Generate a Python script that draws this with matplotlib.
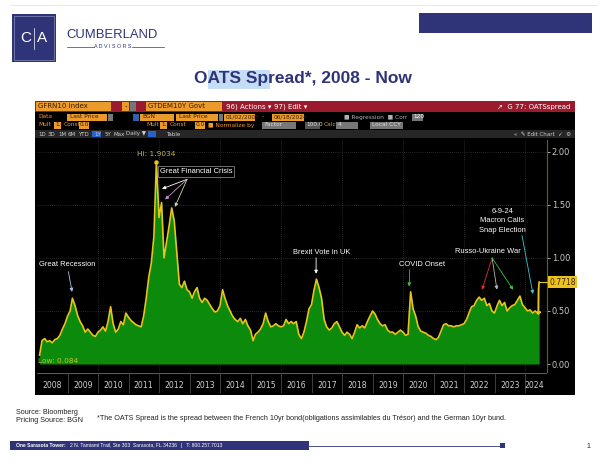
import matplotlib
matplotlib.use("Agg")
import matplotlib.pyplot as plt
from matplotlib.patches import Rectangle
import numpy as np
import pandas as pd

# OATS spread (French 10y minus German 10y), month starts Jan 2008 .. Jun 2024
spread_2008 = [0.084, 0.22, 0.24, 0.21, 0.22, 0.20, 0.23, 0.24, 0.27, 0.33, 0.38, 0.45]
spread_2009 = [0.50, 0.62, 0.55, 0.46, 0.40, 0.36, 0.30, 0.33, 0.30, 0.27, 0.26, 0.30]
spread_2010 = [0.32, 0.35, 0.31, 0.40, 0.54, 0.38, 0.30, 0.33, 0.40, 0.37, 0.48, 0.44]
spread_2011 = [0.41, 0.39, 0.37, 0.36, 0.35, 0.45, 0.62, 0.82, 0.95, 1.20, 1.9034, 1.38]
spread_2012 = [1.52, 1.00, 1.15, 1.30, 1.47, 1.35, 1.05, 0.75, 0.72, 0.78, 0.70, 0.68]
spread_2013 = [0.62, 0.68, 0.72, 0.62, 0.58, 0.62, 0.60, 0.56, 0.52, 0.49, 0.50, 0.55]
spread_2014 = [0.70, 0.62, 0.55, 0.50, 0.45, 0.42, 0.40, 0.43, 0.38, 0.42, 0.36, 0.32]
spread_2015 = [0.22, 0.28, 0.30, 0.33, 0.38, 0.48, 0.40, 0.35, 0.36, 0.38, 0.36, 0.35]
spread_2016 = [0.36, 0.42, 0.38, 0.40, 0.38, 0.40, 0.28, 0.24, 0.30, 0.40, 0.52, 0.56]
spread_2017 = [0.70, 0.80, 0.72, 0.62, 0.42, 0.35, 0.32, 0.34, 0.38, 0.40, 0.35, 0.30]
spread_2018 = [0.27, 0.30, 0.28, 0.24, 0.30, 0.37, 0.34, 0.36, 0.34, 0.40, 0.45, 0.50]
spread_2019 = [0.47, 0.42, 0.38, 0.36, 0.37, 0.32, 0.30, 0.30, 0.28, 0.30, 0.32, 0.30]
spread_2020 = [0.27, 0.28, 0.68, 0.52, 0.45, 0.35, 0.31, 0.30, 0.29, 0.27, 0.26, 0.24]
spread_2021 = [0.23, 0.25, 0.31, 0.37, 0.38, 0.36, 0.36, 0.35, 0.36, 0.36, 0.37, 0.38]
spread_2022 = [0.42, 0.48, 0.54, 0.55, 0.60, 0.63, 0.60, 0.62, 0.55, 0.57, 0.50, 0.48]
spread_2023 = [0.55, 0.60, 0.55, 0.58, 0.50, 0.53, 0.55, 0.56, 0.60, 0.64, 0.56, 0.53]
spread_2024 = [0.50, 0.51, 0.48, 0.50, 0.48, 0.49]

# last days before the snap-election jump
june_dates = ["2024-06-07", "2024-06-10", "2024-06-18"]
june_values = [0.47, 0.70, 0.7718]

year_labels = [str(y) for y in range(2008, 2025)]
y_ticks = [0.0, 0.5, 1.0, 1.5, 2.0]


def decimal_year(d):
	return d.year + (d.dayofyear - 1) / 365.25


monthly = (spread_2008 + spread_2009 + spread_2010 + spread_2011 + spread_2012
	+ spread_2013 + spread_2014 + spread_2015 + spread_2016 + spread_2017
	+ spread_2018 + spread_2019 + spread_2020 + spread_2021 + spread_2022
	+ spread_2023 + spread_2024)
month_dates = pd.date_range("2008-01-02", periods=len(monthly), freq="MS")
dates = list(month_dates) + [pd.Timestamp(d) for d in june_dates]
t = np.array([decimal_year(d) for d in dates])
v = np.array(monthly + june_values)

NAVY = "#2f3479"
RED = "#9c1a2e"
ORANGE = "#eb9a2c"
GREEN = "#0b8a0b"
YELLOW = "#e8c51c"

W, H = 606, 470
fig = plt.figure(figsize=(W / 100, H / 100), dpi=100)
fig.patch.set_facecolor("white")

# page layer in pixel units
bg = fig.add_axes([0, 0, 1, 1])
bg.set_xlim(0, W)
bg.set_ylim(H, 0)
bg.axis("off")


def box(x, y, w, h, color, **kw):
	bg.add_patch(Rectangle((x, y), w, h, facecolor=color, edgecolor=kw.pop("ec", "none"), lw=kw.pop("lw", 0), **kw))


def txt(x, y, s, size=4.2, color="white", ha="left", **kw):
	bg.text(x, y, s, fontsize=size, color=color, ha=ha, va="center", family="DejaVu Sans", **kw)


# ---- slide header ----
bg.plot([10, 596], [5, 5], color="#e4e4e4", lw=0.6)
box(12, 14, 44, 48, NAVY)
bg.add_patch(Rectangle((14, 16), 40, 44, facecolor="none", edgecolor="#9aa0c8", lw=0.4))
bg.text(25.5, 38, "C", fontsize=11, color="white", ha="center", va="center", family="Liberation Sans")
bg.text(42.5, 38, "A", fontsize=11, color="white", ha="center", va="center", family="Liberation Sans")
bg.plot([34, 34], [28, 49], color="white", lw=0.5)
bg.text(66, 35, "CUMBERLAND", fontsize=9.4, color=NAVY, ha="left", va="center", family="Liberation Sans")
bg.text(113, 47, "A D V I S O R S", fontsize=3.8, color=NAVY, ha="center", va="center", family="Liberation Sans")
bg.plot([67, 94], [47, 47], color=NAVY, lw=0.5)
bg.plot([132, 164], [47, 47], color=NAVY, lw=0.5)
box(419, 13, 173, 20, NAVY)

box(208, 70, 62, 19, "#c6ddf6")
bg.text(303, 79, "OATS Spread*, 2008 - Now", fontsize=12.5, fontweight="bold", color=NAVY,
	ha="center", va="center", family="Liberation Sans")

# ---- Bloomberg panel ----
box(35, 101, 540, 294, "black")
box(35, 101, 540, 11, RED)
box(36, 102, 75, 9, ORANGE)
txt(38, 106.5, "GFRN10 Index", 5, "#3a1d00")
box(122, 102, 7, 9, ORANGE)
txt(125.5, 106.5, "-", 5, "#3a1d00", ha="center")
box(130, 102, 6, 9, "#777777")
box(146, 102, 76, 9, ORANGE)
txt(148, 106.5, "GTDEM10Y Govt", 5, "#3a1d00")
txt(226, 106.5, "96) Actions \u25be", 5)
txt(274, 106.5, "97) Edit \u25be", 5)
txt(570, 106.5, "\u2197  G 77: OATSspread", 5, ha="right")

# data row
txt(38, 117, "Data", 4.2, ORANGE)
box(67, 113.5, 40, 7, ORANGE)
txt(70, 117, "Last Price", 4.2, "#3a1d00")
box(108, 113.5, 5, 7, "#777777")
box(133, 113.5, 6, 7, "#3060b0")
box(140, 113.5, 34, 7, ORANGE)
txt(142, 117, "BGN", 4.2, "#3a1d00")
box(176, 113.5, 42, 7, ORANGE)
txt(179, 117, "Last Price", 4.2, "#3a1d00")
box(219, 113.5, 4, 7, "#777777")
box(224, 113.5, 31, 7, ORANGE)
txt(226, 117, "01/02/2008", 4.2, "#3a1d00")
txt(262, 117, "-", 4.2, ORANGE)
box(272, 113.5, 32, 7, ORANGE)
txt(274, 117, "06/18/2024", 4.2, "#3a1d00")
txt(344, 117, "\u25a0 Regression  \u25a0 Corr", 4.2, "#b0b0b0")
box(412, 113.5, 11, 7, "#777777")
txt(413, 117, "120", 4.2, "white")

# mult row
txt(38, 125, "Mult", 4.2, ORANGE)
box(54, 121.5, 7, 7, ORANGE)
txt(55, 125, "1.0", 4.2, "#3a1d00")
txt(64, 125, "Const", 4.2, ORANGE)
box(79, 121.5, 10, 7, ORANGE)
txt(80, 125, "0.0", 4.2, "#3a1d00")
txt(146, 125, "Mult", 4.2, ORANGE)
box(160, 121.5, 7, 7, ORANGE)
txt(161, 125, "1.0", 4.2, "#3a1d00")
txt(170, 125, "Const", 4.2, ORANGE)
box(195, 121.5, 10, 7, ORANGE)
txt(196, 125, "0.0", 4.2, "#3a1d00")
txt(208, 125, "\u25a0 Normalize by", 4.2, ORANGE)
box(262, 121.5, 34, 7, "#777777")
txt(264, 125, "Factor", 4.2, "#dddddd")
box(305, 121.5, 15, 7, "#555555")
txt(306, 125, "100.0", 4.2, "#dddddd")
txt(324, 125, "Calc", 4.2, ORANGE)
box(336, 121.5, 22, 7, "#777777")
txt(338, 125, "4", 4.2, "#dddddd")
box(370, 121.5, 33, 7, "#777777")
txt(372, 125, "Local CCY", 4.2, "#dddddd")

# range buttons row
box(35, 130, 540, 8, "#262626")
for label, x in zip(["1D", "3D", "1M", "6M", "YTD", "1Y", "5Y", "Max", "Daily \u25bc"],
		[38, 48, 58, 68, 78, 94, 105, 114, 126]):
	if label == "1Y":
		box(x - 2, 131, 9, 6, "#2a62c8")
	txt(x, 134, label, 4, "#cfcfcf")
box(148, 131, 8, 6, "#2a62c8")
txt(166, 134, "Table", 4, "#cfcfcf")
txt(571, 134, "\u00ab  \u270e Edit Chart  \u2713  \u2699", 4, "#cfcfcf", ha="right")
txt(255, 143, "+ Track   \u2713 Annotate   \u25a0 News   Q Zoom", 3.2, "#8a8a8a")

# ---- chart axes ----
px = lambda x0, y0, x1, y1: [x0 / W, 1 - y1 / H, (x1 - x0) / W, (y1 - y0) / H]
ax = fig.add_axes(px(37, 140, 547, 372))
ax.set_facecolor("black")
x_right = 2024.72
ax.set_xlim(2008.0, x_right)
ax.set_ylim(-0.075, 2.11)

for yy in y_ticks[1:]:
	ax.axhline(yy, color="#4a4a4a", lw=0.5, ls=(0, (1, 2)), zorder=0)
for yr in range(2010, 2025, 2):
	ax.axvline(yr, color="#4a4a4a", lw=0.5, ls=(0, (1, 2)), zorder=0)

ax.fill_between(t, v, 0, color=GREEN, lw=0, zorder=2)
ax.plot(t, v, color=YELLOW, lw=1.2, zorder=3)

ax.yaxis.tick_right()
ax.set_yticks(y_ticks)
ax.set_yticklabels([f"{y:.2f}" for y in y_ticks])
ax.tick_params(axis="y", colors="#c8c8c8", labelsize=6, length=2, width=0.6, pad=1.5)
ax.set_xticks([])
for side in ["top", "left", "bottom"]:
	ax.spines[side].set_visible(False)
ax.spines["right"].set_color("#6d5d1c")
ax.spines["right"].set_linewidth(0.8)

# high / low markers
i_hi = int(np.argmax(v))
i_lo = int(np.argmin(v))
ax.plot(t[i_hi], v[i_hi], "o", ms=2.2, color=YELLOW, zorder=4)
ax.text(t[i_hi], v[i_hi] + 0.05, f"Hi: {v[i_hi]:.4f}", color="#c9b24a", fontsize=5.3,
	ha="center", va="bottom", zorder=5)
ax.text(2008.03, 0.03, f"Low: {v[i_lo]:.3f}", color="#b8c43a", fontsize=5.3, ha="left", va="center", zorder=5)

# last value tag on the right axis
ax.plot([t[-1], x_right], [v[-1], v[-1]], color=YELLOW, lw=0.8, zorder=3, clip_on=False)
ax.text(1.004, v[-1], f"{v[-1]:.4f}", transform=ax.get_yaxis_transform(), fontsize=5.5,
	color="#3a2a00", ha="left", va="center",
	bbox=dict(boxstyle="square,pad=0.15", fc="#eec21e", ec="none"))

# event annotations
akw = dict(fontsize=5.4, color="white", family="Liberation Sans", ha="center", va="center", zorder=6)


def arrow(x0, y0, x1, y1, color):
	ax.annotate("", xy=(x1, y1), xytext=(x0, y0),
		arrowprops=dict(arrowstyle="-|>", color=color, lw=0.6, mutation_scale=5, shrinkA=0, shrinkB=0), zorder=6)


ax.text(2008.98, 0.94, "Great Recession", **akw)
arrow(2009.03, 0.87, 2009.15, 0.68, "#a9c3e8")

ax.text(2013.22, 1.81, "Great Financial Crisis", bbox=dict(boxstyle="square,pad=0.25", fc="black",
	ec="#9a9a9a", lw=0.5), **akw)
arrow(2012.92, 1.74, 2012.10, 1.65, "white")
arrow(2012.92, 1.74, 2012.20, 1.55, "#c98ad0")
arrow(2012.92, 1.74, 2012.52, 1.48, "#c8d8b0")

ax.text(2017.34, 1.05, "Brexit Vote in UK", **akw)
arrow(2017.15, 1.0, 2017.15, 0.85, "white")

ax.text(2020.62, 0.94, "COVID Onset", **akw)
arrow(2020.22, 0.89, 2020.2, 0.73, "#3fc040")

ax.text(2022.78, 1.06, "Russo-Ukraine War", **akw)
arrow(2022.92, 1.0, 2022.59, 0.70, "#e03030")
arrow(2022.92, 1.0, 2023.08, 0.70, "#b8b8b8")
arrow(2022.92, 1.0, 2023.61, 0.70, "#40c040")

ax.text(2023.25, 1.35, "6-9-24\nMacron Calls\nSnap Election", linespacing=1.5, **akw)
arrow(2023.9, 1.21, 2024.26, 0.66, "#3fc6d8")

# ---- year row ----
axy = fig.add_axes(px(37, 373, 547, 393))
axy.set_facecolor("black")
axy.set_xlim(2008.0, x_right)
axy.set_ylim(0, 1)
axy.axis("off")
axy.axhline(1.0, color="#5a5a5a", lw=0.8)
for k, lab in enumerate(year_labels):
	yr = 2008 + k
	if yr > 2008:
		axy.axvline(yr, color="#4a4a4a", lw=0.6)
	mid = min(yr + 0.5, 2024.3)
	axy.text(mid, 0.4, lab, color="#d0d0d0", fontsize=5.6, ha="center", va="center")

# ---- footer ----
bg.text(16, 413, "Source: Bloomberg", fontsize=5.2, color="#222222", family="Liberation Sans", va="center")
bg.text(16, 421, "Pricing Source: BGN", fontsize=5.2, color="#222222", family="Liberation Sans", va="center")
bg.text(97, 418, "*The OATS Spread is the spread between the French 10yr bond(obligations assimilables du Tr\u00e9sor) "
	"and the German 10yr bund.", fontsize=5.2, color="#222222", family="Liberation Sans", va="center")
box(10, 441, 299, 9, NAVY)
bg.text(16, 445.5, "One Sarasota Tower:", fontsize=3.6, color="white", fontweight="bold",
	family="Liberation Sans", va="center")
bg.text(70, 445.5, "2 N. Tamiami Trail, Ste 303  Sarasota, FL 34236   |   T: 800.257.7013", fontsize=3.6,
	color="white", family="Liberation Sans", va="center")
bg.plot([309, 503], [445.5, 445.5], color=NAVY, lw=0.6)
box(500, 443, 5, 5, NAVY)
bg.text(586, 446, "1", fontsize=5, color="#222222", family="Liberation Sans", va="center")

fig.savefig("out.png", dpi=100, facecolor="white")
